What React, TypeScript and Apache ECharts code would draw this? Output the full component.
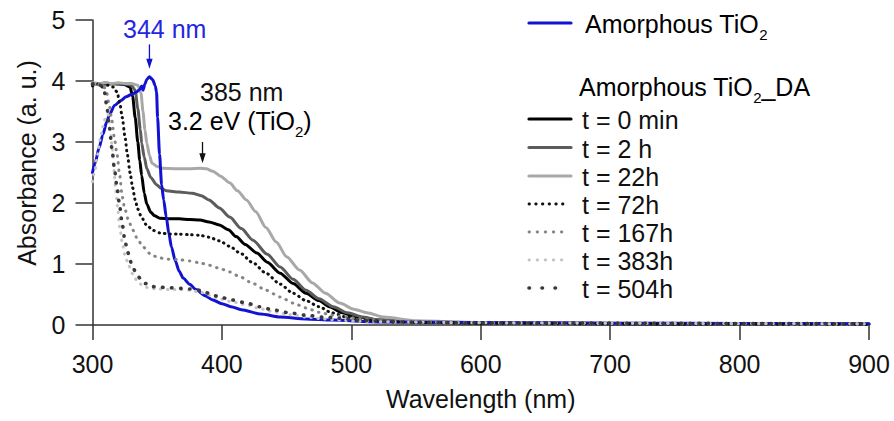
import React, { useEffect, useRef } from "react";
import * as echarts from "echarts";

type Pt = [number, number];

const FONT = '"Liberation Sans", Arial, sans-serif';

const xTicks = { min: 300, max: 900, interval: 100 };
const yTicks = { min: 0, max: 5, interval: 1 };

const amorphousTiO2: Pt[] = [
  [300, 2.5], [302, 2.65], [305, 2.9], [308, 3.12], [311, 3.33], [313, 3.44], [317, 3.6], [322, 3.68],
  [326, 3.74], [330, 3.78], [334, 3.82], [336.5, 3.86], [338, 3.92], [339, 3.85], [340.5, 3.95], [342, 4.03],
  [344, 4.07], [346.5, 4.02], [348.5, 3.92], [349.5, 3.82], [350.3, 3.4], [351.8, 2.8], [353.4, 2.3],
  [355, 2.05], [357, 1.77], [359, 1.5], [361, 1.28], [364, 1.05], [367, 0.88], [370, 0.77], [375, 0.67],
  [380, 0.58], [387, 0.48], [393, 0.41], [400, 0.35], [407, 0.3], [415, 0.25], [430, 0.18], [445, 0.13],
  [465, 0.1], [485, 0.08], [520, 0.05], [600, 0.04], [700, 0.03], [800, 0.025], [900, 0.02],
];

const t0min: Pt[] = [
  [300, 3.95], [305, 3.96], [310, 3.95], [315, 3.96], [320, 3.95], [325, 3.94], [329, 3.9], [331, 3.75],
  [333, 3.4], [335, 3.0], [336.5, 2.7], [338, 2.45], [340, 2.16], [342, 1.98], [345, 1.85], [348, 1.79],
  [352, 1.75], [360, 1.74], [367, 1.74], [375, 1.73], [383, 1.72], [390, 1.69], [398, 1.64], [405, 1.56],
  [411, 1.45], [418, 1.32], [427, 1.18], [435, 1.03], [445, 0.85], [455, 0.68], [465, 0.52], [475, 0.4],
  [483, 0.3], [493, 0.2], [504, 0.13], [522, 0.08], [550, 0.05], [600, 0.03], [700, 0.02], [800, 0.015], [900, 0.01],
];

const t2h: Pt[] = [
  [300, 3.97], [305, 3.95], [310, 3.97], [315, 3.95], [320, 3.96], [325, 3.95], [330, 3.93], [333, 3.85],
  [335, 3.55], [337, 3.2], [338, 2.98], [340, 2.75], [342, 2.56], [345, 2.42], [349.5, 2.3], [353, 2.24],
  [357, 2.2], [367, 2.18], [377, 2.16], [384, 2.12], [390, 2.05], [398, 1.92], [406, 1.77], [415, 1.58],
  [424, 1.39], [435, 1.16], [445, 0.95], [455, 0.75], [465, 0.57], [475, 0.43], [486, 0.3], [497, 0.2],
  [509, 0.13], [522, 0.08], [550, 0.05], [600, 0.035], [700, 0.025], [800, 0.02], [900, 0.015],
];

const t22h: Pt[] = [
  [300, 3.97], [305, 3.96], [310, 3.97], [315, 3.96], [320, 3.97], [325, 3.96], [330, 3.96], [335, 3.93],
  [337.5, 3.8], [339, 3.5], [340.5, 3.2], [342, 2.98], [344, 2.78], [346, 2.65], [350, 2.6], [354, 2.57],
  [365, 2.56], [375, 2.56], [383, 2.57], [388, 2.56], [393, 2.52], [399, 2.44], [406, 2.33], [412, 2.2],
  [419, 2.05], [426, 1.86], [434, 1.6], [442, 1.36], [450, 1.12], [460, 0.9], [470, 0.69], [480, 0.52],
  [491, 0.36], [502, 0.26], [512, 0.2], [525, 0.13], [550, 0.07], [600, 0.04], [700, 0.03], [800, 0.02], [900, 0.015],
];

const t72h: Pt[] = [
  [300, 3.92], [304, 3.95], [308, 3.9], [312, 3.93], [316, 3.9], [319, 3.82], [321, 3.65], [323, 3.4],
  [325, 3.1], [327, 2.79], [329, 2.5], [331, 2.25], [333, 2.05], [335, 1.9], [338, 1.76], [342, 1.63],
  [347, 1.55], [352, 1.51], [360, 1.49], [367, 1.49], [375, 1.48], [383, 1.47], [390, 1.44], [398, 1.38],
  [406, 1.29], [414, 1.18], [424, 1.02], [434, 0.85], [445, 0.67], [455, 0.52], [465, 0.4], [475, 0.3],
  [485, 0.2], [496, 0.13], [510, 0.08], [530, 0.05], [600, 0.03], [700, 0.02], [800, 0.015], [900, 0.01],
];

const t167h: Pt[] = [
  [300, 3.95], [303, 3.92], [306, 3.95], [309, 3.9], [311, 3.8], [313, 3.6], [315, 3.35], [317, 3.05],
  [319, 2.79], [321, 2.45], [323, 2.1], [325, 1.9], [328, 1.7], [331, 1.56], [335, 1.4], [339, 1.28],
  [346, 1.14], [352, 1.1], [358, 1.08], [367, 1.07], [375, 1.05], [383, 1.02], [390, 0.98], [398, 0.93],
  [406, 0.87], [414, 0.79], [424, 0.68], [434, 0.57], [445, 0.46], [455, 0.36], [465, 0.28], [475, 0.21],
  [485, 0.16], [496, 0.13], [510, 0.09], [530, 0.06], [600, 0.04], [700, 0.03], [800, 0.02], [900, 0.015],
];

const t383h: Pt[] = [
  [300, 2.35], [302, 2.55], [304, 2.8], [306, 3.05], [308, 3.25], [310, 3.4], [312, 3.45], [313.5, 3.3],
  [315, 2.95], [316.5, 2.55], [318, 2.2], [319.5, 1.9], [321, 1.6], [323, 1.35], [325, 1.15], [328, 0.97],
  [331, 0.84], [334, 0.74], [338, 0.66], [343, 0.61], [350, 0.59], [360, 0.58], [368, 0.58], [375, 0.57],
  [383, 0.54], [390, 0.49], [398, 0.43], [408, 0.38], [419, 0.33], [429, 0.27], [439, 0.22], [452, 0.17],
  [465, 0.13], [478, 0.1], [491, 0.08], [505, 0.06], [520, 0.05], [600, 0.035], [700, 0.03], [800, 0.025], [900, 0.02],
];

const t504h: Pt[] = [
  [300, 3.95], [303, 3.97], [306, 3.93], [309, 3.85], [311, 3.6], [313, 3.25], [315, 2.9], [317, 2.55],
  [319, 2.25], [321, 1.95], [323, 1.65], [325, 1.4], [327, 1.2], [330, 1.02], [333, 0.88], [337, 0.76],
  [341, 0.68], [346, 0.63], [352, 0.62], [360, 0.61], [368, 0.6], [375, 0.59], [383, 0.57], [390, 0.52],
  [398, 0.46], [408, 0.41], [419, 0.36], [429, 0.3], [439, 0.25], [452, 0.2], [465, 0.16], [478, 0.13],
  [491, 0.11], [505, 0.08], [520, 0.06], [560, 0.04], [600, 0.035], [700, 0.03], [800, 0.025], [900, 0.02],
];

const legendLabels = ["t = 0 min", "t = 2 h", "t = 22h", "t = 72h", "t = 167h", "t = 383h", "t = 504h"];

type Sty = { color: string; width: number; dash: number[] | null; legendDash: number[] | null; legendWidth: number };

const BLUE = "#1212d2";

const daStyles: Sty[] = [
  { color: "#000000", width: 3, dash: null, legendDash: null, legendWidth: 3.2 },
  { color: "#5c5c5c", width: 3, dash: null, legendDash: null, legendWidth: 3.2 },
  { color: "#a8a8a8", width: 3, dash: null, legendDash: null, legendWidth: 3.2 },
  { color: "#111111", width: 3, dash: [0.5, 5], legendDash: [0.5, 6.2], legendWidth: 2.8 },
  { color: "#858585", width: 3, dash: [0.5, 6.5], legendDash: [0.5, 7.6], legendWidth: 2.8 },
  { color: "#c4c4c4", width: 3, dash: [0.5, 6.5], legendDash: [0.5, 7.6], legendWidth: 2.8 },
  { color: "#3a3a3a", width: 3.6, dash: [0.5, 8.5], legendDash: [0.5, 12.5], legendWidth: 3.6 },
];

const daData: Pt[][] = [t0min, t2h, t22h, t72h, t167h, t383h, t504h];

export default function App() {
  const ref = useRef<HTMLDivElement>(null);
  useEffect(() => {
    if (!ref.current) return;
    const chart = echarts.init(ref.current, null, { renderer: "svg" });

    const mkSeries = (name: string, data: Pt[], s: Sty, z: number) => ({
      name,
      type: "line",
      data,
      showSymbol: false,
      symbol: "none",
      smooth: 0.25,
      smoothMonotone: "x",
      z,
      lineStyle: {
        color: s.color,
        width: s.width,
        type: s.dash ? s.dash : "solid",
        cap: "round",
        join: "round",
      },
    });

    const series: any[] = daData.map((d, i) => mkSeries(legendLabels[i], d, daStyles[i], 2 + i));
    series.splice(3, 0, mkSeries("Amorphous TiO2", amorphousTiO2, { color: BLUE, width: 3, dash: null, legendDash: null, legendWidth: 3 }, 5));

    const axisCol = "#333333";
    chart.setOption({
      animation: false,
      grid: { left: 92.5, top: 20, right: 25, bottom: 96, containLabel: false },
      xAxis: {
        type: "value",
        min: xTicks.min,
        max: xTicks.max,
        interval: xTicks.interval,
        name: "Wavelength (nm)",
        nameLocation: "middle",
        nameGap: 61,
        nameTextStyle: { fontSize: 25, color: "#111", fontFamily: FONT },
        axisLine: { show: true, lineStyle: { color: axisCol, width: 1.5 } },
        axisTick: { show: true, inside: false, length: 15, lineStyle: { color: axisCol, width: 1.5 } },
        axisLabel: { fontSize: 25, color: "#111", fontFamily: FONT, margin: 26 },
        splitLine: { show: false },
      },
      yAxis: {
        type: "value",
        min: yTicks.min,
        max: yTicks.max,
        interval: yTicks.interval,
        axisLine: { show: true, lineStyle: { color: axisCol, width: 1.5 } },
        axisTick: { show: true, inside: false, length: 17, lineStyle: { color: axisCol, width: 1.5 } },
        axisLabel: { fontSize: 25, color: "#111", fontFamily: FONT, margin: 27 },
        splitLine: { show: false },
      },
      series,
    });

    const px = (x: number, y: number) => chart.convertToPixel({ gridIndex: 0 }, [x, y]) as number[];

    const arrow = (x: number, yTop: number, yTip: number, color: string) => {
      const a = px(x, yTop);
      const b = px(x, yTip);
      return [
        { type: "line", shape: { x1: a[0], y1: a[1], x2: b[0], y2: b[1] - 6 }, style: { stroke: color, lineWidth: 1.3 }, z: 100 },
        {
          type: "polygon",
          shape: { points: [[b[0] - 3.2, b[1] - 10], [b[0] + 3.2, b[1] - 10], [b[0], b[1]]] },
          style: { fill: color },
          z: 100,
        },
      ];
    };

    const richBase = (size: number, color: string) => ({
      a: { fontSize: size, color, fontFamily: FONT, lineHeight: 36, verticalAlign: "middle" },
      b: { fontSize: 15, color, fontFamily: FONT, lineHeight: 15, verticalAlign: "bottom" },
    });

    const graphic: any[] = [];
    graphic.push(...arrow(344, 4.6, 4.2, BLUE));
    graphic.push(...arrow(385, 3.0, 2.65, "#111"));

    graphic.push({
      type: "text", x: 123, y: 29, z: 100,
      style: { text: "344 nm", fontSize: 25, fill: "#2626e0", fontFamily: FONT, align: "left", verticalAlign: "middle" },
    });
    graphic.push({
      type: "text", x: 200, y: 92, z: 100,
      style: { text: "385 nm", fontSize: 25, fill: "#111", fontFamily: FONT, align: "left", verticalAlign: "middle" },
    });
    graphic.push({
      type: "text", x: 168, y: 121, z: 100,
      style: { text: "{a|3.2 eV (TiO}{b|2}{a|)}", rich: richBase(25, "#111"), align: "left", verticalAlign: "middle" },
    });

    graphic.push({
      type: "text", x: 27, y: 163, rotation: Math.PI / 2, z: 100,
      style: { text: "Absorbance (a. u.)", fontSize: 25, fill: "#111", fontFamily: FONT, align: "center", verticalAlign: "middle" },
    });

    // legend
    graphic.push({
      type: "line", shape: { x1: 529, y1: 23, x2: 571, y2: 23 },
      style: { stroke: BLUE, lineWidth: 3.2, lineCap: "round" }, z: 100,
    });
    graphic.push({
      type: "text", x: 585, y: 24, z: 100,
      style: { text: "{a|Amorphous TiO}{b|2}", rich: richBase(25, "#111"), align: "left", verticalAlign: "middle" },
    });
    graphic.push({
      type: "text", x: 579, y: 87, z: 100,
      style: { text: "{a|Amorphous TiO}{b|2}{a|_DA}", rich: richBase(25, "#111"), align: "left", verticalAlign: "middle" },
    });
    const rowY = [120, 148.5, 177, 205, 233, 261, 289];
    legendLabels.forEach((lab, i) => {
      const s = daStyles[i];
      const y = rowY[i];
      graphic.push({
        type: "line", shape: { x1: 529, y1: y - 1, x2: s.legendDash ? 568 : 571, y2: y - 1 },
        style: { stroke: s.color, lineWidth: s.legendWidth, lineCap: "round", lineDash: s.legendDash || undefined }, z: 100,
      });
      graphic.push({
        type: "text", x: 582, y, z: 100,
        style: { text: lab, fontSize: 25, fill: "#111", fontFamily: FONT, align: "left", verticalAlign: "middle" },
      });
    });

    chart.setOption({ graphic });

    return () => chart.dispose();
  }, []);

  return <div ref={ref} style={{ position: "fixed", left: 0, top: 0, width: 894, height: 421, background: "#fff" }} />;
}
